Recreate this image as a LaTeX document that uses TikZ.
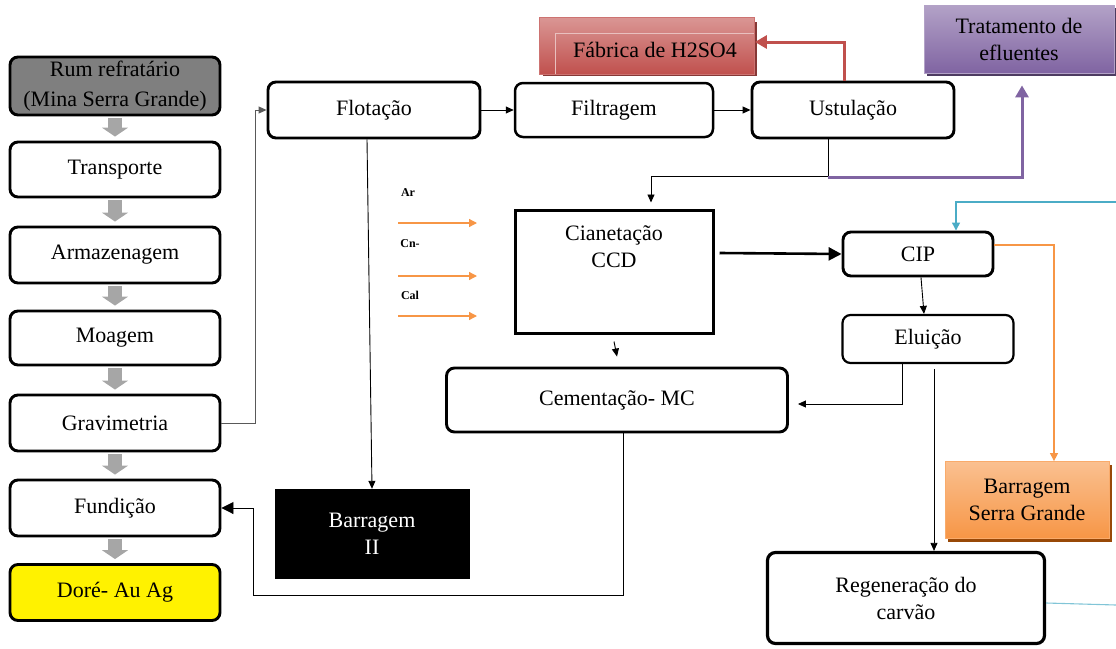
\documentclass[tikz,border=0pt]{standalone}
\usepackage{fontspec}
\setmainfont{Liberation Serif}
\usetikzlibrary{arrows.meta,calc}
\definecolor{boxgray}{HTML}{7F7F7F}
\definecolor{blockgray}{HTML}{A6A6A6}
\definecolor{acidred}{HTML}{C0504D}
\definecolor{acidlight}{HTML}{DA9694}
\definecolor{effpurple}{HTML}{8064A2}
\definecolor{efflight}{HTML}{B3A2C7}
\definecolor{damorange}{HTML}{F79646}
\definecolor{damlight}{HTML}{FAC090}
\definecolor{damdark}{HTML}{984807}
\definecolor{waterblue}{HTML}{4BACC6}
\definecolor{linegray}{HTML}{595959}

\begin{document}
\begin{tikzpicture}[x=1pt,y=-1pt,
  txt/.style={font=\fontsize{22}{27}\selectfont, align=center},
  box/.style={txt, draw=black, line width=2.9pt, rounded corners=8pt, fill=white, inner sep=0pt},
  flat/.style={txt, inner sep=0pt},
  conn/.style={draw=black, line width=0.9pt, -{Triangle[length=8pt,width=7pt]}},
  feed/.style={draw=damorange, line width=1.3pt, -{Triangle[length=8pt,width=8pt]}},
  blockarrow/.style={draw=blockgray, line width=14pt, -{Triangle[length=9pt,width=26pt]}},
  small/.style={font=\fontsize{12}{14}\selectfont\bfseries, inner sep=0pt}
]
\useasboundingbox (0,0) rectangle (1116,648);

% ---- main ore line ----
\node[box, fill=boxgray, minimum width=210pt, minimum height=58pt, font=\fontsize{22}{30}\selectfont] (rum) at (115,86) {Rum refratário\\(Mina Serra Grande)};
\node[box, minimum width=210pt, minimum height=55pt] (transp) at (115,169.5) {Transporte};
\node[box, minimum width=210pt, minimum height=56pt] (armaz) at (115,255) {Armazenagem};
\node[box, minimum width=210pt, minimum height=54pt] (moag) at (115,338) {Moagem};
\node[box, minimum width=210pt, minimum height=56pt] (grav) at (115,423) {Gravimetria};
\node[box, minimum width=210pt, minimum height=56pt] (fund) at (115,508) {Fundição};
\node[box, fill=yellow, minimum width=210pt, minimum height=56pt] (dore) at (115,592.5) {Doré- Au Ag};

\foreach \a/\b in {rum/transp, transp/armaz, armaz/moag, moag/grav, grav/fund, fund/dore}
  \draw[blockarrow] ($(\a.south)+(0,2)$) -- ($(\b.north)+(0,-4)$);

% ---- concentrate circuit ----
\node[box, minimum width=212pt, minimum height=56pt] (flot) at (374,110) {Flotação};
\node[box, line width=2.5pt, minimum width=198pt, minimum height=54pt] (filt) at (614,110) {Filtragem};
\node[box, minimum width=202pt, minimum height=56pt] (ustul) at (853,110) {Ustulação};

% sulphuric acid plant
\fill[acidred!70!black] (543,22) rectangle (757,76);
\node[flat, minimum width=215pt, minimum height=57pt, top color=acidlight, bottom color=acidred, draw=acidred!80!white, line width=0.8pt] (fab) at (647,46) {};
\draw[acidlight!60!white, line width=0.8pt] (555,74) -- (555,33) -- (754,33);
\node[txt, inner sep=0pt] at (655,50) {Fábrica de H2SO4};

% effluent treatment
\fill[effpurple!60!black] (927,8) rectangle (1116,76);
\node[flat, minimum width=190pt, minimum height=68pt, top color=efflight, bottom color=effpurple, draw=efflight, line width=0.8pt] (trat) at (1019,39) {Tratamento de\\efluentes};

% cyanidation
\node[draw=black, line width=3pt, fill=white, minimum width=198pt, minimum height=123pt, inner sep=0pt] (cian) at (614,271.5) {};
\node[txt] (ciantxt) at (614,247) {Cianetação\\CCD};

\node[box, minimum width=150pt, minimum height=44pt] (cip) at (918,254) {CIP};
\node[box, line width=2.2pt, minimum width=171pt, minimum height=48pt] (elu) at (928,339) {Eluição};
\node[box, minimum width=341pt, minimum height=64pt] (cem) at (617,400) {Cementação- MC};
\node[flat, fill=black, text=white, minimum width=195pt, minimum height=90pt] (barII) at (372,534) {Barragem\\II};

\fill[damdark] (948,465) rectangle (1112,542);
\node[flat, minimum width=164pt, minimum height=77pt, top color=damlight, bottom color=damorange, draw=damorange!80!white, line width=0.8pt] (bsg) at (1027,500) {Barragem\\Serra Grande};

\node[box, line width=3.2pt, minimum width=277pt, minimum height=91pt] (regen) at (906,598) {Regeneração do\\carvão};

% ---- reagent feeds ----
\node[small] (ar) at (408,193) {Ar};
\node[small] (cn) at (410,244) {Cn-};
\node[small] (cal) at (410,295) {Cal};
\coordinate (arA) at (398,223);  \coordinate (arB) at (477,223);
\coordinate (cnA) at (398,276);  \coordinate (cnB) at (477,276);
\coordinate (calA) at (398,316); \coordinate (calB) at (477,316);
\draw[feed] (arA) -- (arB);
\draw[feed] (cnA) -- (cnB);
\draw[feed] (calA) -- (calB);

% ---- connectors ----
\draw[conn, draw=linegray] (grav.east) -- ++(34,0) |- (flot.west);
\draw[conn] (flot.east) -- (filt.west);
\draw[conn] (filt.east) -- (ustul.west);
\draw[draw=acidred, line width=3pt, -{Triangle[length=12pt,width=13pt]}] ($(ustul.north)+(-9,0)$) |- ($(fab.east)+(0,-4)$);

\coordinate (ustOut) at (828,138);
\draw[conn] (ustOut) -- ++(0,38) -| ($(cian.north)+(37,-6)$);
\draw[draw=effpurple, line width=3pt, -{Triangle[length=12pt,width=13pt]}] ($(ustOut)+(0,39.5)$) -| ($(trat.south)+(3,12)$);

\draw[draw=black, line width=2.6pt, -{Triangle[length=13pt,width=13pt]}] ($(cian.east)+(5,-18.5)$) -- (cip.west);
\draw[conn] ($(cian.south)+(0,7)$) -- ($(cem.north)+(0,-10)$);

\coordinate (blueIn) at (1116,202);
\draw[draw=waterblue, line width=1.3pt, -{Triangle[length=8pt,width=8pt]}] (blueIn) -| ($(cip.north)+(38,0)$);
\draw[feed] ($(cip.east)+(0,-9)$) -| ($(bsg.north)+(27,0)$);

\draw[conn] ($(cip.south)+(3,0)$) -- ($(elu.north)+(-4,0)$);
\draw[conn, line width=0.8pt] ($(elu.south)+(-26,0)$) |- ($(cem.east)+(9,4)$);
\draw[conn, line width=0.8pt] ($(elu.south)+(6,5)$) -- ($(regen.north)+(28,0)$);

\draw[conn] ($(flot.south)+(-7,0)$) -- (barII.north);

\coordinate (loop) at (253,595);
\draw[draw=black, line width=0.9pt, -{Triangle[length=12pt,width=12pt]}] ($(cem.south)+(6,0)$) |- (loop) |- (fund.east);

\coordinate (blueOut) at (1116,605);
\draw[draw=waterblue!70, line width=1.1pt] ($(regen.east)+(0,5)$) -- (blueOut);
\end{tikzpicture}
\end{document}
